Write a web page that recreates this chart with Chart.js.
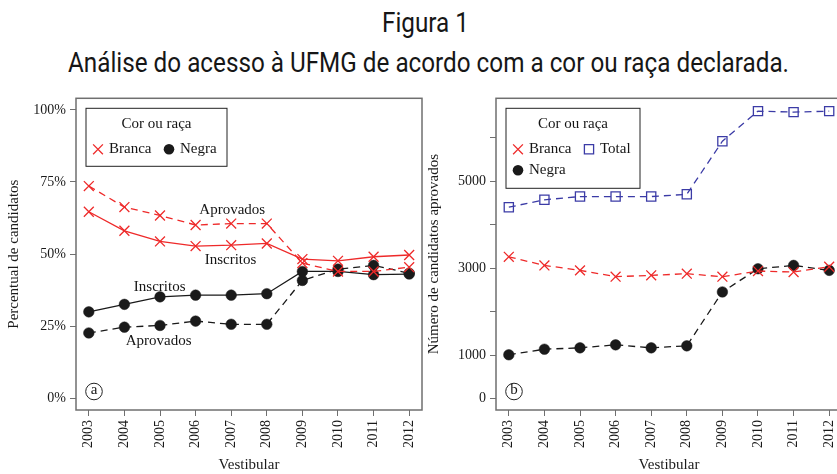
<!DOCTYPE html>
<html><head><meta charset="utf-8">
<script src="https://cdn.jsdelivr.net/npm/chart.js@4/dist/chart.umd.min.js"></script>
<style>
html,body{margin:0;padding:0;width:837px;height:474px;overflow:hidden;background:#fff;}
.t{position:absolute;white-space:nowrap;font-family:Roboto,"Liberation Sans",sans-serif;font-size:28px;line-height:28px;color:#161616;transform-origin:0 0;}
canvas{position:absolute;top:90px;}
#c1{left:0;}
#c2{left:420px;}
</style></head><body>
<div id="t1" class="t">Figura 1</div>
<div id="t2" class="t">Análise do acesso à UFMG de acordo com a cor ou raça declarada.</div>
<canvas id="c1" width="440" height="384"></canvas>
<canvas id="c2" width="440" height="384"></canvas>
<script>
// ---- data ----
const years = [2003, 2004, 2005, 2006, 2007, 2008, 2009, 2010, 2011, 2012];
const yearLabels = ['2003','2004','2005','2006','2007','2008','2009','2010','2011','2012'];

// panel (a): percent of candidates
const pctBrancaAprovados = [73.6, 66.3, 63.4, 60.1, 60.6, 60.6, 46.9, 44.0, 44.0, 45.5];
const pctBrancaInscritos = [64.7, 58.1, 54.4, 52.8, 53.1, 53.7, 48.3, 47.7, 49.1, 49.7];
const pctNegraInscritos  = [30.0, 32.6, 35.2, 35.8, 35.8, 36.3, 44.0, 44.0, 42.9, 43.1];
const pctNegraAprovados  = [22.7, 24.7, 25.3, 26.8, 25.7, 25.7, 40.9, 44.8, 46.1, 43.4];
const pctTicks  = [0, 25, 50, 75, 100];
const pctLabels = ['0%', '25%', '50%', '75%', '100%'];

// panel (b): number of approved candidates
const numTotal  = [4400, 4570, 4645, 4645, 4645, 4697, 5917, 6610, 6587, 6610];
const numBranca = [3258, 3061, 2947, 2801, 2833, 2870, 2801, 2931, 2908, 3030];
const numNegra  = [1005, 1133, 1165, 1234, 1165, 1211, 2451, 2984, 3061, 2947];
const numTicks  = [0, 1000, 2000, 3000, 4000, 5000, 6000];
const numLabels = ['0', '1000', '', '3000', '', '5000', ''];

const legendTitle = 'Cor ou raça';
const nameBranca = 'Branca', nameNegra = 'Negra', nameTotal = 'Total';
const noteAprovados = 'Aprovados', noteInscritos = 'Inscritos';

// ---- styles ----
const RED = '#ee2a2a', BLACK = '#1a1a1a', BLUE = '#3b3ba6', FRAME = '#6f6f6f';
const SERIF = '"Liberation Serif", "DejaVu Serif", serif';

function pts(vals){ return vals.map((v,i)=>({x:years[i], y:v})); }

function ds(label, vals, color, style, dashed){
  const base = {label, data: pts(vals), borderColor: color, borderWidth: 1.3,
    borderDash: dashed ? [7,5] : [], tension: 0, fill: false,
    pointBorderColor: color, pointBorderWidth: 1.3, pointHoverRadius: 0};
  if (style === 'x') Object.assign(base, {pointStyle:'crossRot', pointRadius:7, pointBackgroundColor: color});
  if (style === 'o') Object.assign(base, {pointStyle:'circle', pointRadius:5.3, pointBackgroundColor: color, pointBorderWidth:0.5});
  if (style === 's') Object.assign(base, {pointStyle:'rect', pointRadius:6.5, pointBackgroundColor:'rgba(0,0,0,0)'});
  base.mk = style;
  return base;
}

function drawMarker(ctx, style, color, x, y){
  ctx.save();
  ctx.strokeStyle = color; ctx.fillStyle = color; ctx.lineWidth = 1.3; ctx.setLineDash([]);
  ctx.beginPath();
  if (style === 'x'){ const d = 4.9; ctx.moveTo(x-d,y-d); ctx.lineTo(x+d,y+d); ctx.moveTo(x+d,y-d); ctx.lineTo(x-d,y+d); ctx.stroke(); }
  else if (style === 'o'){ ctx.arc(x,y,5.3,0,Math.PI*2); ctx.fill(); }
  else if (style === 's'){ const d = 4.6; ctx.rect(x-d,y-d,2*d,2*d); ctx.stroke(); }
  ctx.restore();
}

const framePlugin = {
  id: 'frame',
  afterDraw(chart, args, o){
    const {ctx, chartArea:a, scales} = chart;
    ctx.save();
    ctx.strokeStyle = FRAME; ctx.lineWidth = 1.5;
    ctx.strokeRect(a.left, a.top, a.right-a.left, a.bottom-a.top);
    // notes
    ctx.font = '15px ' + SERIF; ctx.fillStyle = '#151515';
    ctx.textAlign = 'center'; ctx.textBaseline = 'middle';
    (o.notes || []).forEach(n => ctx.fillText(n.text, scales.x.getPixelForValue(n.x), scales.y.getPixelForValue(n.y)));
    // panel tag
    const cx = a.left + 18, cy = a.bottom - 18.5;
    ctx.lineWidth = 1; ctx.strokeStyle = '#222';
    ctx.beginPath(); ctx.arc(cx, cy, 8.3, 0, Math.PI*2); ctx.stroke();
    ctx.font = '15px ' + SERIF; ctx.fillText(o.tag, cx, cy - 1);
    // legend
    const L = o.legend;
    const bx = a.left + 10, by = a.top + 10;
    ctx.fillStyle = '#fff'; ctx.fillRect(bx, by, L.w, L.h);
    ctx.strokeStyle = '#222'; ctx.lineWidth = 1; ctx.strokeRect(bx, by, L.w, L.h);
    ctx.fillStyle = '#151515'; ctx.textAlign = 'center';
    ctx.fillText(legendTitle, bx + L.w/2, a.top + 26);
    ctx.textAlign = 'left';
    L.items.forEach(it => {
      const d = chart.data.datasets[it.ds];
      const mx = a.left + it.dx, my = a.top + it.dy;
      drawMarker(ctx, d.mk, d.borderColor, mx, my);
      ctx.fillStyle = '#151515';
      ctx.fillText(it.text, mx + 11, my);
    });
    ctx.restore();
  }
};

function makeChart(id, datasets, ymin, ymax, ticks, labels, ytitle, frameOpts){
  return new Chart(document.getElementById(id), {
    type: 'line',
    data: { datasets },
    options: {
      responsive: false, maintainAspectRatio: false, animation: false,
      layout: { padding: { top: 6, right: 18, bottom: 0, left: 0 } },
      plugins: { legend: {display:false}, tooltip: {enabled:false}, frame: frameOpts },
      scales: {
        x: {
          type: 'linear', min: 2002.64, max: 2012.36,
          afterBuildTicks: s => { s.ticks = years.map(v => ({value: v})); },
          afterFit: s => { s.height = 64; s.paddingLeft = 0; s.paddingRight = 0; },
          ticks: { callback: (v, i) => yearLabels[i], autoSkip: false, minRotation: 90, maxRotation: 90,
                   font: {family: SERIF, size: 14}, color: '#1a1a1a', padding: 4 },
          grid: { drawOnChartArea: false, tickLength: 6, color: FRAME, lineWidth: 1 },
          border: { display: false },
          title: { display: true, text: 'Vestibular', font: {family: SERIF, size: 15}, color: '#1a1a1a', padding: {top: 0, bottom: 0} }
        },
        y: {
          type: 'linear', min: ymin, max: ymax,
          afterBuildTicks: s => { s.ticks = ticks.map(v => ({value: v})); },
          afterFit: s => { s.width = 76; s.paddingTop = 0; s.paddingBottom = 0; },
          ticks: { callback: (v, i) => labels[i], font: {family: SERIF, size: 14}, color: '#1a1a1a', padding: 4 },
          grid: { drawOnChartArea: false, tickLength: 6, color: FRAME, lineWidth: 1 },
          border: { display: false },
          title: { display: true, text: ytitle, font: {family: SERIF, size: 15}, color: '#1a1a1a', padding: {top: 5, bottom: 4} }
        }
      }
    },
    plugins: [framePlugin]
  });
}

makeChart('c1', [
    ds(nameBranca + ' ' + noteAprovados, pctBrancaAprovados, RED, 'x', true),
    ds(nameBranca + ' ' + noteInscritos, pctBrancaInscritos, RED, 'x', false),
    ds(nameNegra + ' ' + noteInscritos, pctNegraInscritos, BLACK, 'o', false),
    ds(nameNegra + ' ' + noteAprovados, pctNegraAprovados, BLACK, 'o', true)
  ], -4, 104, pctTicks, pctLabels, 'Percentual de candidatos',
  { tag: 'a',
    notes: [
      {text: noteAprovados, x: 2007.03, y: 65.4},
      {text: noteInscritos, x: 2006.98, y: 47.8},
      {text: noteInscritos, x: 2004.99, y: 38.5},
      {text: noteAprovados, x: 2004.96, y: 19.9}
    ],
    legend: { w: 141, h: 58, items: [
      {ds: 0, text: nameBranca, dx: 22, dy: 51},
      {ds: 2, text: nameNegra, dx: 93, dy: 51}
    ]}
  });

makeChart('c2', [
    ds(nameTotal, numTotal, BLUE, 's', true),
    ds(nameBranca, numBranca, RED, 'x', true),
    ds(nameNegra, numNegra, BLACK, 'o', true)
  ], -265, 6905, numTicks, numLabels, 'Número de candidatos aprovados',
  { tag: 'b', notes: [],
    legend: { w: 134, h: 80, items: [
      {ds: 1, text: nameBranca, dx: 22, dy: 51},
      {ds: 0, text: nameTotal, dx: 93, dy: 51},
      {ds: 2, text: nameNegra, dx: 22, dy: 72}
    ]}
  });

// ---- title: one horizontal condensing factor for both lines ----
const e1 = document.getElementById('t1'), e2 = document.getElementById('t2');
const s = (789 - 68) / e2.getBoundingClientRect().width;
const w1 = e1.getBoundingClientRect().width * s;
e2.style.left = '68px'; e2.style.top = '49px'; e2.style.transform = 'scaleX(' + s + ')';
e1.style.left = (425 - w1 / 2) + 'px'; e1.style.top = '9px'; e1.style.transform = 'scaleX(' + s + ')';
</script>
</body></html>
